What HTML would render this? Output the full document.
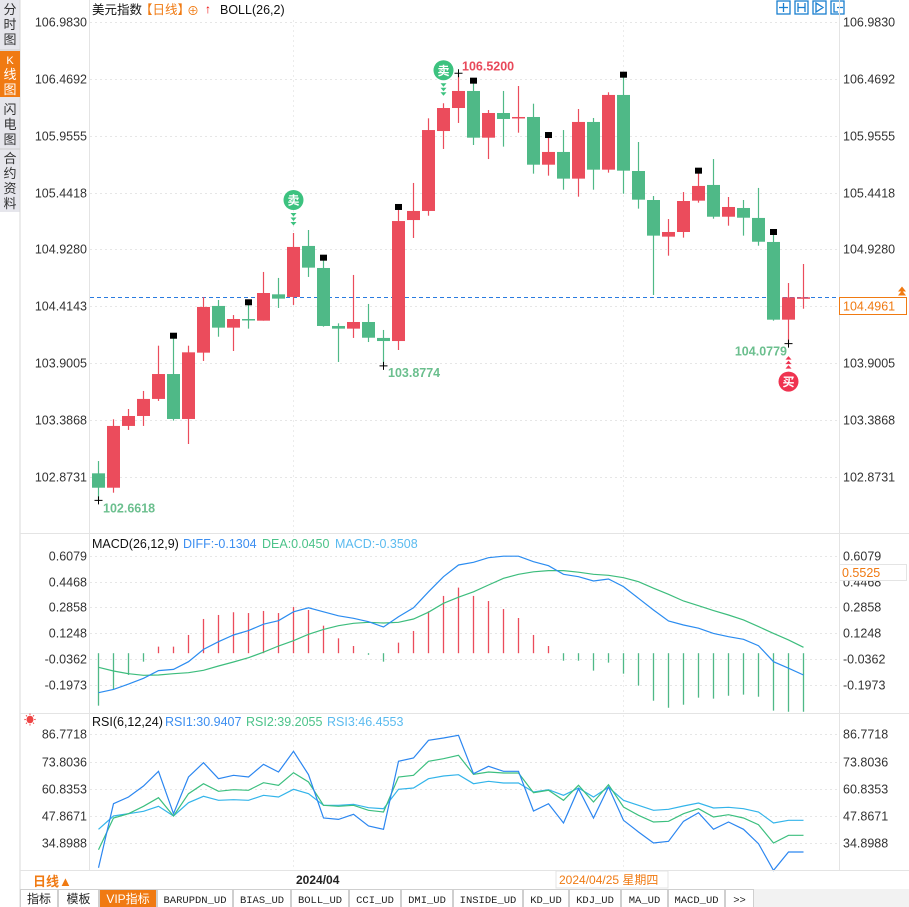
<!DOCTYPE html>
<html><head><meta charset="utf-8"><style>
body{margin:0;width:909px;height:907px;overflow:hidden;background:#fff;font-family:"Liberation Sans","Noto Sans CJK SC",sans-serif}
svg{position:absolute;left:0;top:0}
text{font-family:"Liberation Sans","Noto Sans CJK SC",sans-serif}
text.mono{font-family:"Liberation Mono","DejaVu Sans Mono",monospace}
</style></head><body>
<svg id="c" width="909" height="907" xmlns="http://www.w3.org/2000/svg">
<rect x="0" y="0" width="909" height="907" fill="#fff"/>
<g>
<rect x="0" y="0" width="20" height="212" fill="#e6e6ec"/>
<line x1="20" y1="0" x2="20" y2="907" stroke="#d8d8d8"/>
<rect x="0" y="51" width="20" height="46" fill="#f07a12"/>
<g font-size="13" fill="#333" text-anchor="middle">
<text x="10" y="14">分</text><text x="10" y="29">时</text><text x="10" y="44">图</text>
<text x="10" y="64" fill="#fff" font-size="11">K</text><text x="10" y="79" fill="#fff">线</text><text x="10" y="94" fill="#fff">图</text>
<text x="10" y="114">闪</text><text x="10" y="129">电</text><text x="10" y="144">图</text>
<text x="10" y="163">合</text><text x="10" y="178">约</text><text x="10" y="193">资</text><text x="10" y="208">料</text>
</g>
<line x1="0" y1="50" x2="20" y2="50" stroke="#ccc"/><line x1="0" y1="149" x2="20" y2="149" stroke="#ccc"/>
</g>
<g font-size="12.5">
<text x="92" y="14" fill="#111">美元指数</text><text x="140" y="14" fill="#f07a12">【日线】</text>
<text x="187" y="15" fill="#f07a12" font-size="12">⊕</text>
<text x="205" y="13" fill="#e00" font-size="12" font-weight="bold">↑</text>
<text x="220" y="14" fill="#111">BOLL(26,2)</text>
</g>
<g fill="none" stroke="#1a7fd0" stroke-width="1.3">
<rect x="777" y="1" width="13" height="13"/><rect x="795" y="1" width="13" height="13"/><rect x="813" y="1" width="13" height="13"/><rect x="831" y="1" width="13" height="13"/>
<path d="M783.5 3v9M779 7.5h9M798 3v9M805 3v9M798 7.5h7M816 3v9l7-4.5zM834 3v9h4M837 7.5h6"/>
</g>
<line x1="89.5" y1="0" x2="89.5" y2="870" stroke="#e4e4e4"/>
<line x1="839.5" y1="0" x2="839.5" y2="870" stroke="#e4e4e4"/>
<line x1="20" y1="533.5" x2="909" y2="533.5" stroke="#e4e4e4"/>
<line x1="20" y1="713.5" x2="909" y2="713.5" stroke="#e4e4e4"/>
<g id="grid"></g>
<g id="main"></g>
<g id="macd"></g>
<g id="rsi"></g>
<g font-size="12.5">
<text x="92" y="548" fill="#111">MACD(26,12,9)</text>
<text x="183" y="548" fill="#3c8ef0">DIFF:-0.1304</text>
<text x="262" y="548" fill="#4cc38a">DEA:0.0450</text>
<text x="335" y="548" fill="#5bbbef">MACD:-0.3508</text>
</g>
<g font-size="12.5">
<text x="24" y="724" fill="#e44" font-size="12">☀</text>
<text x="92" y="726" fill="#111">RSI(6,12,24)</text>
<text x="165" y="726" fill="#3c8ef0">RSI1:30.9407</text>
<text x="246" y="726" fill="#4cc38a">RSI2:39.2055</text>
<text x="327" y="726" fill="#5bbbef">RSI3:46.4553</text>
</g>
<g>
<line x1="20" y1="870.5" x2="909" y2="870.5" stroke="#e4e4e4"/>
<text x="33" y="886" fill="#f07a12" font-size="13" font-weight="bold">日线▲</text>
<text x="296" y="884" fill="#222" font-size="12" font-weight="bold">2024/04</text>
<rect x="556" y="871" width="112" height="17" fill="#fff" stroke="#e4e4e4"/>
<text x="559" y="884" fill="#f07a12" font-size="12">2024/04/25 星期四</text>
</g>
<g id="tabs"><rect x="20" y="889" width="889" height="18" fill="#f2f2f2"/></g>
</svg>
<script>
const categories=[];for(let k=1;k<=48;k++)categories.push('D'+k);
const open=[102.906,102.776,103.334,103.424,103.578,103.803,103.397,103.996,104.418,104.222,104.300,104.285,104.523,104.499,104.960,104.761,104.237,104.213,104.273,104.129,104.101,105.194,105.276,105.998,106.206,106.360,105.938,106.161,106.120,106.125,105.694,105.809,105.568,106.080,105.649,106.324,105.637,105.375,105.044,105.086,105.369,105.511,105.224,105.303,105.213,104.996,104.294,104.496];
const close=[102.776,103.334,103.424,103.578,103.803,103.397,103.999,104.409,104.222,104.300,104.288,104.535,104.484,104.951,104.764,104.237,104.213,104.273,104.131,104.101,105.185,105.276,106.007,106.206,106.360,105.938,106.161,106.107,106.125,105.694,105.809,105.568,106.080,105.649,106.324,105.640,105.378,105.053,105.086,105.366,105.502,105.224,105.312,105.215,104.998,104.294,104.496,104.4961];
const high=[103.017,103.394,103.487,103.650,104.059,104.140,104.059,104.499,104.472,104.336,104.442,104.725,104.671,105.077,105.104,104.845,104.261,104.698,104.436,104.201,105.303,105.529,106.113,106.249,106.520,106.444,106.188,106.360,106.405,106.245,105.953,106.007,106.197,106.116,106.348,106.498,105.899,105.411,105.203,105.447,105.631,105.745,105.402,105.375,105.484,105.077,104.625,104.797];
const low=[102.662,102.731,103.298,103.334,103.560,103.382,103.171,103.921,104.140,104.011,104.213,104.285,104.400,104.427,104.680,104.231,103.912,104.129,104.092,103.877,104.020,105.032,105.233,105.836,106.071,105.872,105.745,105.857,105.983,105.613,105.595,105.468,105.405,105.468,105.622,105.432,105.297,104.517,104.872,105.035,105.351,105.206,105.143,105.053,104.962,104.285,104.078,104.393];
const priceTicks=[106.9830,106.4692,105.9555,105.4418,104.9280,104.4143,103.9005,103.3868,102.8731];
const macdHist=[-0.328,-0.224,-0.136,-0.053,0.041,0.041,0.114,0.214,0.239,0.256,0.251,0.264,0.251,0.289,0.27,0.172,0.093,0.045,-0.01,-0.053,0.066,0.139,0.262,0.358,0.41,0.358,0.326,0.276,0.22,0.114,0.045,-0.047,-0.047,-0.109,-0.059,-0.128,-0.203,-0.297,-0.341,-0.322,-0.278,-0.284,-0.266,-0.259,-0.272,-0.359,-0.366,-0.366];
const dif=[-0.247,-0.226,-0.193,-0.157,-0.109,-0.101,-0.053,0.024,0.072,0.114,0.141,0.181,0.203,0.259,0.284,0.259,0.234,0.218,0.197,0.164,0.228,0.284,0.384,0.478,0.551,0.568,0.597,0.606,0.606,0.572,0.547,0.493,0.478,0.451,0.464,0.416,0.343,0.27,0.201,0.176,0.156,0.124,0.103,0.087,0.047,-0.053,-0.094,-0.136];
const dea=[-0.088,-0.111,-0.128,-0.138,-0.136,-0.128,-0.122,-0.107,-0.08,-0.055,-0.028,0.006,0.045,0.078,0.118,0.149,0.172,0.187,0.193,0.189,0.193,0.214,0.256,0.312,0.35,0.384,0.426,0.468,0.493,0.509,0.516,0.516,0.506,0.493,0.487,0.472,0.447,0.406,0.368,0.326,0.297,0.266,0.239,0.208,0.166,0.124,0.083,0.037];
const macdTicks=[0.6079,0.4468,0.2858,0.1248,-0.0362,-0.1973];
const rsi1=[23.19,53.70,56.88,62.12,69.12,48.94,66.42,73.25,65.62,67.21,66.42,72.45,68.80,78.65,67.53,46.87,46.23,48.62,43.06,41.47,73.88,75.47,83.89,85.01,86.28,68.00,71.50,69.12,69.12,50.21,53.70,44.49,60.85,46.87,61.65,45.76,40.20,34.95,35.75,45.28,49.41,41.47,44.96,41.47,34.63,21.92,30.66,30.66];
const rsi2=[31.78,46.87,48.94,52.43,56.56,47.82,58.47,63.24,59.58,60.38,60.06,63.71,62.44,68.48,64.03,52.91,52.43,52.91,50.53,49.73,66.42,67.21,73.88,75.15,76.74,67.69,68.80,68.32,68.32,58.95,60.06,55.29,62.44,54.50,62.76,52.11,48.14,44.96,45.28,48.94,51.32,47.35,48.46,46.87,43.69,34.95,38.61,38.61];
const rsi3=[41.47,47.82,48.94,50.05,52.43,47.82,54.18,57.20,55.29,55.61,55.29,57.68,56.88,60.54,58.47,52.91,52.91,53.39,51.80,51.32,60.54,61.17,65.62,66.89,67.53,63.24,64.35,63.56,63.56,59.26,60.38,57.68,61.17,56.88,61.49,55.29,52.91,50.53,51.00,52.59,54.02,51.64,51.96,51.32,49.73,44.49,45.76,45.76];
const rsiTicks=[86.7718,73.8036,60.8353,47.8671,34.8988];
const tabLabels=['指标','模板','VIP指标','BARUPDN_UD','BIAS_UD','BOLL_UD','CCI_UD','DMI_UD','INSIDE_UD','KD_UD','KDJ_UD','MA_UD','MACD_UD','>>'];

const NS='http://www.w3.org/2000/svg';
function mk(p,tag,a,txt){const e=document.createElementNS(NS,tag);for(const k in a)e.setAttribute(k,a[k]);if(txt!==undefined)e.textContent=txt;p.appendChild(e);return e;}
const X=i=>98+15*i;
const PY=p=>22+(106.983-p)*110.7;
const MY=v=>653.2-v*160;
const RY=v=>734.3+(86.7718-v)*2.098;
const grid=document.getElementById('grid'),main=document.getElementById('main'),mg=document.getElementById('macd'),rg=document.getElementById('rsi');
const RED='#eb4c5c',GRN='#4fb987';

priceTicks.forEach(t=>{
  const y=Math.round(PY(t))+0.5;
  const l=mk(grid,'line',{x1:90,x2:839,y1:y,y2:y,stroke:'#e6e6e6','stroke-dasharray':'2,3'});
  
  
  const a=mk(grid,'text',{x:87,y:y+4,'text-anchor':'end','font-size':12.5,fill:'#333'},t.toFixed(4));
  
  
  const b=mk(grid,'text',{x:843,y:y+4,'font-size':12.5,fill:'#333'},t.toFixed(4));
  
  
});
macdTicks.forEach(t=>{
  const y=Math.round(MY(t))+0.5;
  const l=mk(grid,'line',{x1:90,x2:839,y1:y,y2:y,stroke:'#e6e6e6','stroke-dasharray':'2,3'});
  
  
  const a=mk(grid,'text',{x:87,y:y+4,'text-anchor':'end','font-size':12.5,fill:'#333'},t.toFixed(4));
  
  
  const b=mk(grid,'text',{x:843,y:y+4,'font-size':12.5,fill:'#333'},t.toFixed(4));
  
  
});
rsiTicks.forEach(t=>{
  const y=Math.round(RY(t))+0.5;
  const l=mk(grid,'line',{x1:90,x2:839,y1:y,y2:y,stroke:'#e6e6e6','stroke-dasharray':'2,3'});
  
  
  const a=mk(grid,'text',{x:87,y:y+4,'text-anchor':'end','font-size':12.5,fill:'#333'},t.toFixed(4));
  
  
  const b=mk(grid,'text',{x:843,y:y+4,'font-size':12.5,fill:'#333'},t.toFixed(4));
  
  
});
[293.5,623.5].forEach(x=>{
  const l=mk(grid,'line',{x1:x,x2:x,y1:20,y2:870,stroke:'#ececec','stroke-dasharray':'2,3'});
  
  
});

const lp=close[close.length-1];
const ly=Math.round(PY(lp))+0.5;
const pl=mk(main,'line',{x1:90,x2:839,y1:ly,y2:ly,stroke:'#2a7be0','stroke-dasharray':'4,3'});


const pb=mk(main,'rect',{x:839.5,y:ly,width:67,height:17,fill:'#fff',stroke:'#f07a12'});


mk(main,'text',{x:843,y:ly+13,'font-size':12.5,fill:'#f07a12'},lp.toFixed(4));
mk(main,'path',{d:`M898 ${ly-2}l4-5 4 5zM898 ${ly-6}l4-5 4 5z`,fill:'#f07a12'});

categories.forEach((c,i)=>{
  const up=close[i]>=open[i];const col=up?RED:GRN;const x=X(i);
  const w=mk(main,'line',{x1:x+0.5,x2:x+0.5,y1:PY(high[i]),y2:PY(low[i]),stroke:col,'stroke-width':1.2});
  
  
  const t=PY(Math.max(open[i],close[i])),b=PY(Math.min(open[i],close[i]));
  const r=mk(main,'rect',{x:x-6,y:t,width:13,height:Math.max(b-t,1.5),fill:col});
  
  
  if(i%5===0&&i>0){
    const m=mk(main,'rect',{x:x-3,y:PY(high[i])-4,width:7,height:6,fill:'#000'});
    
    
  }
});
function cross(x,y){mk(main,'path',{d:`M${x-4} ${y}h8M${x} ${y-4}v8`,stroke:'#000','stroke-width':1});}
cross(X(0)+0.5,PY(low[0]));cross(X(24)+0.5,PY(high[24]));cross(X(19)+0.5,PY(low[19]));cross(X(46)+0.5,PY(low[46]));
const e1=mk(main,'text',{x:X(0)+5,y:PY(low[0])+12,'font-size':12.5,'font-weight':'bold',fill:'#6bbf8e'},'102.6618');


const e2=mk(main,'text',{x:X(24)+4,y:PY(high[24])-3,'font-size':12.5,'font-weight':'bold',fill:'#e8495a'},'106.5200');


const e3=mk(main,'text',{x:X(19)+5,y:PY(low[19])+11,'font-size':12.5,'font-weight':'bold',fill:'#6bbf8e'},'103.8774');


const e4=mk(main,'text',{x:X(46)-1,y:PY(low[46])+12,'text-anchor':'end','font-size':12.5,'font-weight':'bold',fill:'#6bbf8e'},'104.0779');


function sell(i){const x=X(i)+0.5,y=PY(high[i])-33;
  const g=mk(main,'g',{});
  
  
  mk(g,'circle',{cx:x,cy:y,r:10,fill:'#3cc27f'});
  mk(g,'text',{x:x,y:y+4.5,'text-anchor':'middle','font-size':12,fill:'#fff','font-weight':'bold'},'卖');
  for(let k=0;k<3;k++)mk(g,'path',{d:`M${x-3} ${y+13+k*4.5}h6l-3 3.5z`,fill:'#3cc27f'});
}
sell(13);sell(23);
(function(){const i=46,x=X(i)+0.5,y=PY(low[i])+38;
  const g=mk(main,'g',{});
  
  
  mk(g,'circle',{cx:x,cy:y,r:10,fill:'#ef3350'});
  mk(g,'text',{x:x,y:y+4.5,'text-anchor':'middle','font-size':12,fill:'#fff','font-weight':'bold'},'买');
  for(let k=0;k<3;k++)mk(g,'path',{d:`M${x-3} ${y-13-k*4.5}h6l-3 -3.5z`,fill:'#ef3350'});
})();

macdHist.forEach((v,i)=>{
  const x=X(i)+0.5;
  const b=mk(mg,'line',{x1:x,x2:x,y1:MY(0),y2:MY(v),stroke:v>=0?RED:GRN,'stroke-width':1.3});
  
  
});
function poly(g,arr,fy,col,name){
  const p=mk(g,'polyline',{points:arr.map((v,i)=>(X(i)+0.5)+','+fy(v).toFixed(1)).join(' '),fill:'none',stroke:col,'stroke-width':1.2});
  
  
}
poly(mg,dea,MY,'#3dbd7d','dea-line');
poly(mg,dif,MY,'#2b8cf0','dif-line');
const mb=mk(mg,'rect',{x:839.5,y:564.5,width:67,height:16,fill:'#fff',stroke:'#e4e4e4'});


mk(mg,'text',{x:842,y:577,'font-size':12.5,fill:'#f07a12'},'0.5525');

poly(rg,rsi3,RY,'#33b4ea','rsi3-line');
poly(rg,rsi2,RY,'#3cbf7f','rsi2-line');
poly(rg,rsi1,RY,'#2b86f0','rsi1-line');

const tabs=document.getElementById('tabs');
const tabW=[38,41,58,76,58,58,52,52,70,46,52,47,57,29];
let tx=20;
tabLabels.forEach((t,k)=>{
  const vip=k===2;
  const r=mk(tabs,'rect',{x:tx+0.5,y:889.5,width:tabW[k]-1,height:18,fill:vip?'#f07a12':'#fff',stroke:'#cfcfcf'});
  
  
  const tt=mk(tabs,'text',{x:tx+tabW[k]/2,y:903,'text-anchor':'middle','font-size':k<3?12:10.5,fill:vip?'#fff':'#222'},t);
  if(k>=3)tt.setAttribute('class','mono');
  tx+=tabW[k];
});
</script>
</body></html>
